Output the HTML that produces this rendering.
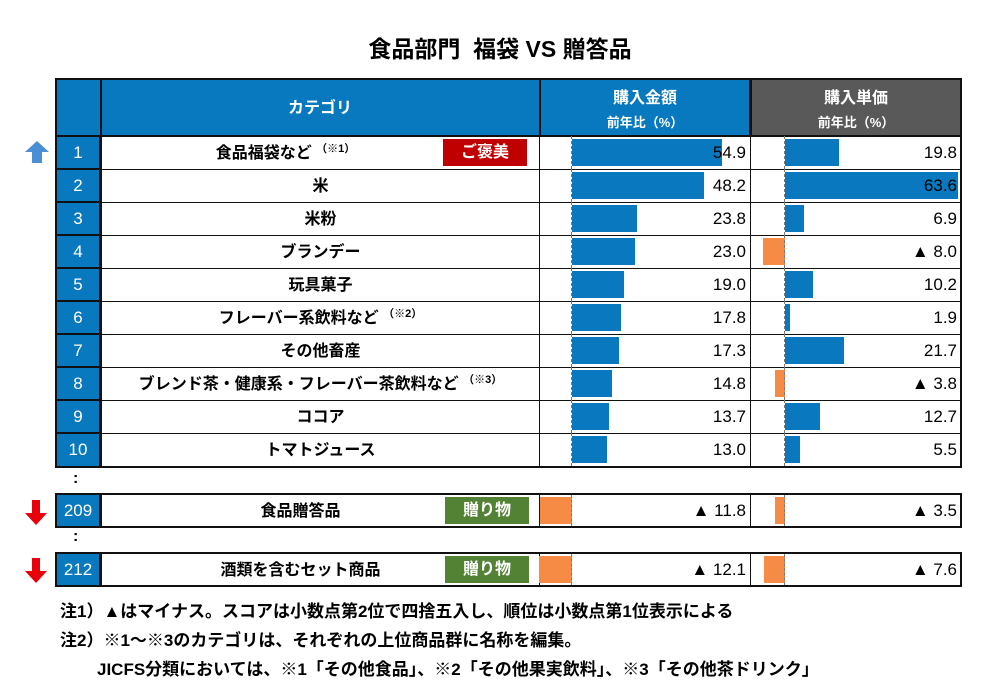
<!DOCTYPE html>
<html><head><meta charset="utf-8"><style>
body{margin:0;width:1000px;height:700px;background:#fff;font-family:"Liberation Sans","Noto Sans CJK JP",sans-serif;position:relative;overflow:hidden}
div{position:absolute;box-sizing:border-box}
.t{font-weight:bold;color:#000}
.rk{left:55px;width:46px;height:34px;background:#0878bf;color:#fff;font-size:17px;text-align:center;line-height:32px;border:2px solid #111;border-top:1px solid #111}
.cat{left:100px;width:440px;height:34px;border:1px solid #111;border-left:2px solid #111;font-size:16px;font-weight:bold;text-align:center;line-height:33px}
.am{left:539px;width:212px;height:34px;border:1px solid #111}
.pr{left:750px;width:212px;height:34px;border:1px solid #111;border-right:2px solid #111}
.b{height:27px;background:#0a78be}
.o{height:27px;background:#f68b45}
.v{width:200px;text-align:right;font-size:17px;line-height:33px;color:#000}
.z{width:0;height:33px;border-left:1.5px dashed #777}
sup{font-size:11px;line-height:0;vertical-align:6px}
.tag{width:84px;height:27px;color:#fff;font-size:16px;font-weight:bold;text-align:center;line-height:27px}
.n{font-size:17px;font-weight:bold;white-space:nowrap}
</style></head><body>
<div class="t" style="left:0;width:1000px;top:30px;text-align:center;font-size:23px">食品部門&nbsp;&nbsp;福袋 VS 贈答品</div>
<div style="left:55px;top:78px;width:486px;height:59px;background:#0878bf;border:2px solid #111"></div>
<div style="left:100px;top:78px;width:1.5px;height:59px;background:#111"></div>
<div class="t" style="left:101px;top:94px;width:438px;text-align:center;color:#fff;font-size:16px">カテゴリ</div>
<div style="left:539px;top:78px;width:212px;height:59px;background:#0878bf;border:2px solid #111"></div>
<div class="t" style="left:539px;top:84px;width:212px;text-align:center;color:#fff;font-size:16px">購入金額</div>
<div class="t" style="left:539px;top:112px;width:212px;text-align:center;color:#fff;font-size:13px">前年比（%）</div>
<div style="left:750px;top:78px;width:212px;height:59px;background:#595959;border:2px solid #111"></div>
<div class="t" style="left:750px;top:84px;width:212px;text-align:center;color:#fff;font-size:16px">購入単価</div>
<div class="t" style="left:750px;top:112px;width:212px;text-align:center;color:#fff;font-size:13px">前年比（%）</div>
<svg style="position:absolute;left:25px;top:141px" width="24" height="24"><polygon points="12,0 24,11 17,11 17,22 7,22 7,11 0,11" fill="#4a8fd6"/></svg>

<div class="rk" style="top:136px">1</div><div class="cat" style="top:136px;padding-right:70px">食品福袋など <sup>（※1）</sup></div>
<div class="tag" style="left:443px;top:139px;background:#c00000">ご褒美</div>
<div class="am" style="top:136px"></div><div class="pr" style="top:136px"></div>
<div class="b" style="left:572px;top:139px;width:150px"></div><div class="z" style="left:571px;top:136px"></div><div class="v" style="left:546px;top:136px">54.9</div>
<div class="b" style="left:785px;top:139px;width:54px"></div><div class="z" style="left:784px;top:136px"></div><div class="v" style="left:757px;top:136px">19.8</div>

<div class="rk" style="top:169px">2</div><div class="cat" style="top:169px">米</div>
<div class="am" style="top:169px"></div><div class="pr" style="top:169px"></div>
<div class="b" style="left:572px;top:172px;width:132px"></div><div class="z" style="left:571px;top:169px"></div><div class="v" style="left:546px;top:169px">48.2</div>
<div class="b" style="left:785px;top:172px;width:173px"></div><div class="z" style="left:784px;top:169px"></div><div class="v" style="left:757px;top:169px">63.6</div>

<div class="rk" style="top:202px">3</div><div class="cat" style="top:202px">米粉</div>
<div class="am" style="top:202px"></div><div class="pr" style="top:202px"></div>
<div class="b" style="left:572px;top:205px;width:65px"></div><div class="z" style="left:571px;top:202px"></div><div class="v" style="left:546px;top:202px">23.8</div>
<div class="b" style="left:785px;top:205px;width:19px"></div><div class="z" style="left:784px;top:202px"></div><div class="v" style="left:757px;top:202px">6.9</div>

<div class="rk" style="top:235px">4</div><div class="cat" style="top:235px">ブランデー</div>
<div class="am" style="top:235px"></div><div class="pr" style="top:235px"></div>
<div class="b" style="left:572px;top:238px;width:63px"></div><div class="z" style="left:571px;top:235px"></div><div class="v" style="left:546px;top:235px">23.0</div>
<div class="o" style="left:763px;top:238px;width:22px"></div><div class="z" style="left:784px;top:235px"></div><div class="v" style="left:757px;top:235px">▲ 8.0</div>

<div class="rk" style="top:268px">5</div><div class="cat" style="top:268px">玩具菓子</div>
<div class="am" style="top:268px"></div><div class="pr" style="top:268px"></div>
<div class="b" style="left:572px;top:271px;width:52px"></div><div class="z" style="left:571px;top:268px"></div><div class="v" style="left:546px;top:268px">19.0</div>
<div class="b" style="left:785px;top:271px;width:28px"></div><div class="z" style="left:784px;top:268px"></div><div class="v" style="left:757px;top:268px">10.2</div>

<div class="rk" style="top:301px">6</div><div class="cat" style="top:301px">フレーバー系飲料など <sup>（※2）</sup></div>
<div class="am" style="top:301px"></div><div class="pr" style="top:301px"></div>
<div class="b" style="left:572px;top:304px;width:49px"></div><div class="z" style="left:571px;top:301px"></div><div class="v" style="left:546px;top:301px">17.8</div>
<div class="b" style="left:785px;top:304px;width:5px"></div><div class="z" style="left:784px;top:301px"></div><div class="v" style="left:757px;top:301px">1.9</div>

<div class="rk" style="top:334px">7</div><div class="cat" style="top:334px">その他畜産</div>
<div class="am" style="top:334px"></div><div class="pr" style="top:334px"></div>
<div class="b" style="left:572px;top:337px;width:47px"></div><div class="z" style="left:571px;top:334px"></div><div class="v" style="left:546px;top:334px">17.3</div>
<div class="b" style="left:785px;top:337px;width:59px"></div><div class="z" style="left:784px;top:334px"></div><div class="v" style="left:757px;top:334px">21.7</div>

<div class="rk" style="top:367px">8</div><div class="cat" style="top:367px">ブレンド茶・健康系・フレーバー茶飲料など <sup>（※3）</sup></div>
<div class="am" style="top:367px"></div><div class="pr" style="top:367px"></div>
<div class="b" style="left:572px;top:370px;width:40px"></div><div class="z" style="left:571px;top:367px"></div><div class="v" style="left:546px;top:367px">14.8</div>
<div class="o" style="left:775px;top:370px;width:10px"></div><div class="z" style="left:784px;top:367px"></div><div class="v" style="left:757px;top:367px">▲ 3.8</div>

<div class="rk" style="top:400px">9</div><div class="cat" style="top:400px">ココア</div>
<div class="am" style="top:400px"></div><div class="pr" style="top:400px"></div>
<div class="b" style="left:572px;top:403px;width:37px"></div><div class="z" style="left:571px;top:400px"></div><div class="v" style="left:546px;top:400px">13.7</div>
<div class="b" style="left:785px;top:403px;width:35px"></div><div class="z" style="left:784px;top:400px"></div><div class="v" style="left:757px;top:400px">12.7</div>

<div class="rk" style="top:433px;border-bottom:2px solid #111;height:35px">10</div><div class="cat" style="top:433px;border-bottom:2px solid #111;height:35px">トマトジュース</div>
<div class="am" style="top:433px;border-bottom:2px solid #111;height:35px"></div><div class="pr" style="top:433px;border-bottom:2px solid #111;height:35px"></div>
<div class="b" style="left:572px;top:436px;width:35px"></div><div class="z" style="left:571px;top:433px"></div><div class="v" style="left:546px;top:433px">13.0</div>
<div class="b" style="left:785px;top:436px;width:15px"></div><div class="z" style="left:784px;top:433px"></div><div class="v" style="left:757px;top:433px">5.5</div>

<div class="t" style="left:73px;top:470px;font-size:16px">:</div>

<svg style="position:absolute;left:24px;top:500px" width="24" height="26"><polygon points="8,0 16,0 16,13 23,13 12,25 1,13 8,13" fill="#e8000b"/></svg>
<div class="rk" style="top:493px;height:35px;border:2px solid #111">209</div><div class="cat" style="top:493px;height:35px;border-top:2px solid #111;border-bottom:2px solid #111;padding-right:40px">食品贈答品</div>
<div class="tag" style="left:445px;top:497px;background:#548235">贈り物</div>
<div class="am" style="top:493px;height:35px;border-top:2px solid #111;border-bottom:2px solid #111"></div><div class="pr" style="top:493px;height:35px;border-top:2px solid #111;border-bottom:2px solid #111"></div>
<div class="o" style="left:540px;top:497px;width:32px"></div><div class="z" style="left:571px;top:495px;height:31px"></div><div class="v" style="left:546px;top:494px">▲ 11.8</div>
<div class="o" style="left:775px;top:497px;width:10px"></div><div class="z" style="left:784px;top:495px;height:31px"></div><div class="v" style="left:757px;top:494px">▲ 3.5</div>

<div class="t" style="left:73px;top:528px;font-size:16px">:</div>

<svg style="position:absolute;left:24px;top:558px" width="24" height="26"><polygon points="8,0 16,0 16,13 23,13 12,25 1,13 8,13" fill="#e8000b"/></svg>
<div class="rk" style="top:552px;height:35px;border:2px solid #111">212</div><div class="cat" style="top:552px;height:35px;border-top:2px solid #111;border-bottom:2px solid #111;padding-right:40px">酒類を含むセット商品</div>
<div class="tag" style="left:445px;top:556px;background:#548235">贈り物</div>
<div class="am" style="top:552px;height:35px;border-top:2px solid #111;border-bottom:2px solid #111"></div><div class="pr" style="top:552px;height:35px;border-top:2px solid #111;border-bottom:2px solid #111"></div>
<div class="o" style="left:539px;top:556px;width:33px"></div><div class="z" style="left:571px;top:554px;height:31px"></div><div class="v" style="left:546px;top:553px">▲ 12.1</div>
<div class="o" style="left:764px;top:556px;width:21px"></div><div class="z" style="left:784px;top:554px;height:31px"></div><div class="v" style="left:757px;top:553px">▲ 7.6</div>

<div class="n" style="left:60px;top:597px">注1）▲はマイナス。スコアは小数点第2位で四捨五入し、順位は小数点第1位表示による</div>
<div class="n" style="left:60px;top:626px">注2）※1～※3のカテゴリは、それぞれの上位商品群に名称を編集。</div>
<div class="n" style="left:97px;top:655px">JICFS分類においては、※1「その他食品」、※2「その他果実飲料」、※3「その他茶ドリンク」</div>
</body></html>
